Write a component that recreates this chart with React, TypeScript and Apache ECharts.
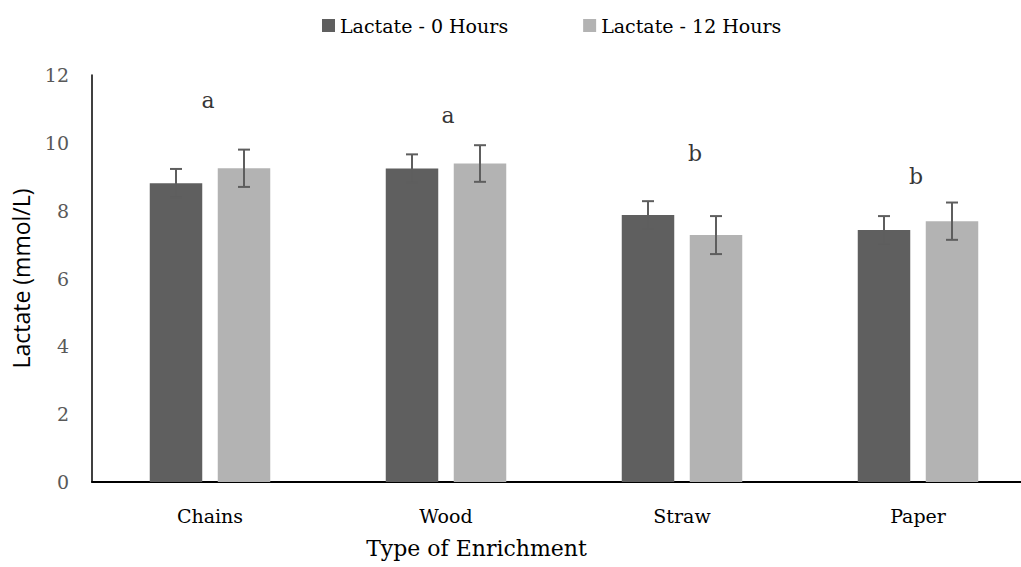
import React, { useEffect, useRef } from "react";
import * as echarts from "echarts";

const categories = ["Chains", "Wood", "Straw", "Paper"];
const lactate0 = [8.81, 9.24, 7.87, 7.43];
const lactate0Err = [0.42, 0.42, 0.41, 0.41];
const lactate12 = [9.25, 9.39, 7.28, 7.69];
const lactate12Err = [0.55, 0.54, 0.56, 0.55];
const letters = ["a", "a", "b", "b"];
const letterY = [11.24, 10.8, 9.68, 9.0];
const letterDx = [-2, 2, 13, -2];
const yTicks = { min: 0, max: 12, interval: 2 };

const DARK = "#5f5f5f";
const LIGHT = "#b3b3b3";
const ERR = "#5e5e5e";
const SERIF = "'DejaVu Serif', 'Liberation Serif', serif";
const BAR_W = 52.5;
const BAR_GAP_PX = 15.5;

function errSeries(values: number[], errs: number[], side: number) {
  return {
    type: "custom",
    silent: true,
    z: 5,
    data: values.map((v, i) => [i, v - errs[i], v + errs[i]]),
    renderItem: (params: any, api: any) => {
      const i = api.value(0);
      const lo = api.coord([i, api.value(1)]);
      const hi = api.coord([i, api.value(2)]);
      const x = lo[0] + side * (BAR_W + BAR_GAP_PX) / 2;
      const cap = 6;
      const style = { stroke: ERR, lineWidth: 2 };
      return {
        type: "group",
        children: [
          { type: "line", shape: { x1: x, y1: lo[1], x2: x, y2: hi[1] }, style },
          { type: "line", shape: { x1: x - cap, y1: hi[1], x2: x + cap, y2: hi[1] }, style },
          { type: "line", shape: { x1: x - cap, y1: lo[1], x2: x + cap, y2: lo[1] }, style },
        ],
      };
    },
  };
}

export default function App() {
  const ref = useRef<HTMLDivElement>(null);
  useEffect(() => {
    const chart = echarts.init(ref.current!, null, { renderer: "svg" });
    chart.setOption({
      animation: false,
      backgroundColor: "#ffffff",
      textStyle: { fontFamily: SERIF },
      legend: {
        left: 317,
        top: 11,
        itemWidth: 13,
        itemHeight: 13,
        itemGap: 75,
        icon: "rect",
        textStyle: { fontFamily: SERIF, fontSize: 19, color: "#000" },
        data: ["Lactate - 0 Hours", "Lactate - 12 Hours"],
      },
      grid: { left: 92, top: 75, width: 944, height: 407, outerBoundsMode: "none" },
      xAxis: {
        type: "category",
        data: categories,
        axisLine: { lineStyle: { color: "#000", width: 2 } },
        axisTick: { show: false },
        axisLabel: { color: "#000", fontSize: 19, fontFamily: SERIF, margin: 24 },
        name: "Type of Enrichment",
        nameLocation: "middle",
        nameGap: 55,
        nameTextStyle: {
          color: "#000",
          fontSize: 22,
          fontFamily: SERIF,
          padding: [0, 175, 0, 0],
        },
      },
      yAxis: {
        type: "value",
        min: yTicks.min,
        max: yTicks.max,
        interval: yTicks.interval,
        axisLine: { show: true, lineStyle: { color: "#000", width: 1.5 } },
        axisTick: { show: false },
        splitLine: { show: false },
        axisLabel: { color: "#595959", fontSize: 19, fontFamily: SERIF, margin: 23 },
        name: "Lactate (mmol/L)",
        nameLocation: "middle",
        nameGap: 60,
        nameTextStyle: { color: "#000", fontSize: 23, fontFamily: "'Open Sans', 'Noto Sans', sans-serif" },
      },
      series: [
        {
          name: "Lactate - 0 Hours",
          type: "bar",
          data: lactate0,
          barWidth: BAR_W,
          barGap: (BAR_GAP_PX / BAR_W) * 100 + "%",
          itemStyle: { color: DARK },
        },
        {
          name: "Lactate - 12 Hours",
          type: "bar",
          data: lactate12,
          barWidth: BAR_W,
          itemStyle: { color: LIGHT },
        },
        errSeries(lactate0, lactate0Err, -1),
        errSeries(lactate12, lactate12Err, 1),
        {
          type: "scatter",
          symbolSize: 0,
          silent: true,
          data: letters.map((l, i) => ({
            value: [i, letterY[i]],
            label: {
              show: true,
              position: "inside",
              formatter: l,
              offset: [letterDx[i], 0],
              color: "#000",
              fontSize: 22,
              fontFamily: SERIF,
            },
          })),
        },
      ],
    });
    return () => chart.dispose();
  }, []);
  return (
    <div
      ref={ref}
      style={{ position: "fixed", left: 0, top: 0, width: 1021, height: 567 }}
    />
  );
}
